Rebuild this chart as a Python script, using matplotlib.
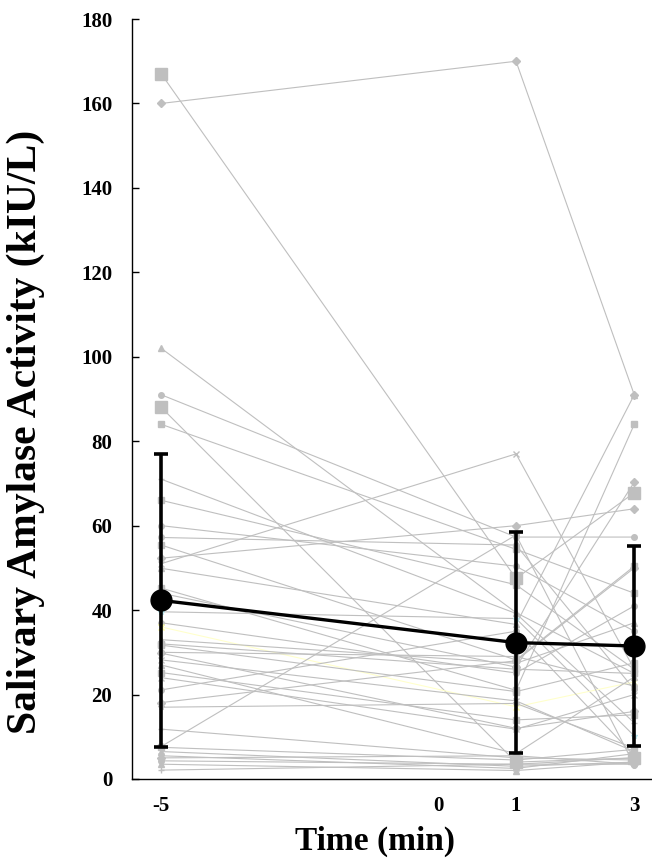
import matplotlib
matplotlib.use("Agg")
import matplotlib.pyplot as plt

# ---- data ----
times = [-5, 1, 3]
xtick_labels = ["-5", "0", "1", "3"]
xtick_values = [-5, -0.32, 1, 3]
yticks = [0, 20, 40, 60, 80, 100, 120, 140, 160, 180]

mean_vals = [42.3, 32.3, 31.5]
sd_vals = [34.7, 26.2, 23.8]

s01 = [167, 47.5, 67.8]
s02 = [160, 170, 91]
s03 = [102, 39.4, 25]
s04 = [91, 57.3, 57.3]
s05 = [88, 4, 5]
s06 = [84, 54.4, 44]
s07 = [71, 39.2, 13.3]
s08 = [66, 46, 26]
s09 = [60, 50.4, 35]
s10 = [51, 77, 26]
s11 = [57.2, 55.4, 21.2]
s12 = [55.4, 28.2, 50.4]
s13 = [52.3, 60, 64]
s14 = [49.9, 36.6, 91]
s15 = [45.2, 21, 84]
s16 = [44, 26.5, 70.3]
s17 = [39.6, 38, 10.2]
s18 = [37, 25.1, 41]
s19 = [36, 17.1, 23]
s20 = [33, 27.4, 37]
s21 = [31.7, 20.7, 27.5]
s22 = [29.8, 12, 16]
s23 = [28.2, 18.5, 6.5]
s24 = [27, 6, 24.2]
s25 = [25.2, 14, 15.2]
s26 = [21.1, 35, 5.5]
s27 = [18.1, 28, 50]
s28 = [17, 17.9, 7.3]
s29 = [11.8, 5, 4.5]
s30 = [7.7, 57.8, 3.3]
s31 = [7.5, 4.5, 7]
s32 = [6.5, 3, 4]
s33 = [5.5, 2.5, 6]
s34 = [5, 5.5, 3.5]
s35 = [4.3, 3.5, 5]
s36 = [3.5, 2, 4]
s37 = [2.1, 3.5, 3.5]
s38 = [32, 26, 25]
s39 = [30, 29, 22]
s40 = [24, 11.8, 20]

subjects = [s01, s02, s03, s04, s05, s06, s07, s08, s09, s10,
            s11, s12, s13, s14, s15, s16, s17, s18, s19, s20,
            s21, s22, s23, s24, s25, s26, s27, s28, s29, s30,
            s31, s32, s33, s34, s35, s36, s37, s38, s39, s40]

# ---- styles ----
marker_cycle = ['s', 'D', '^', 'o', 's', 's', '_', 's', 'o', 'x',
                'o', 's', 'D', '^', 's', 'D', '*', 'o', 'x', '^',
                's', 'D', 'x', '^', 's', 'o', 'D', '*', '+', 'o',
                's', '^', 'x', 'D', 'o', '^', '+', 's', 'o', 'x']
big = {0: 8, 4: 8}
grey = '#BFBFBF'

plt.rcParams['font.family'] = ['Liberation Serif', 'DejaVu Serif']
plt.rcParams['font.weight'] = 'bold'

fig = plt.figure(figsize=(6.52, 8.6), dpi=100)
ax = fig.add_axes([0.202, 0.0942, 0.798, 0.8837])

for i, vals in enumerate(subjects):
    m = marker_cycle[i % len(marker_cycle)]
    ms = big.get(i, 4)
    lc = grey
    mfc = grey
    if i == 18:
        lc = '#FFFFCC'
        mfc = '#FFFF99'
    if i == 16:
        mfc = '#B7E4EC'
    ax.plot(times, vals, color=lc, lw=0.8, marker=m, markersize=ms,
            markerfacecolor=mfc, markeredgecolor=mfc,
            zorder=2, clip_on=False)

ax.errorbar(times, mean_vals, yerr=sd_vals, color='black', lw=2.4,
            marker='o', markersize=15, elinewidth=2.6, capsize=5, capthick=2.6,
            zorder=5, clip_on=False)

ax.set_xlim(-5.5, 3.3)
ax.set_ylim(0, 180)
ax.set_yticks(yticks)
ax.set_yticklabels([str(v) for v in yticks], fontsize=15, fontweight='bold')
ax.set_xticks(xtick_values)
ax.set_xticklabels(xtick_labels, fontsize=15, fontweight='bold')
ax.tick_params(axis='y', direction='in', length=5, width=1, pad=14)
ax.tick_params(axis='x', length=0, pad=12)

ax.spines['top'].set_visible(False)
ax.spines['right'].set_visible(False)
ax.spines['left'].set_linewidth(1)
ax.spines['bottom'].set_linewidth(1)

ax.set_xlabel('Time (min)', fontsize=24, fontweight='bold')
ax.set_ylabel('Salivary Amylase Activity (kIU/L)', fontsize=30, fontweight='bold')
ax.xaxis.set_label_coords(0.468, -0.062)
ax.yaxis.set_label_coords(-0.166, 0.457)

fig.savefig('out.png', dpi=100)
